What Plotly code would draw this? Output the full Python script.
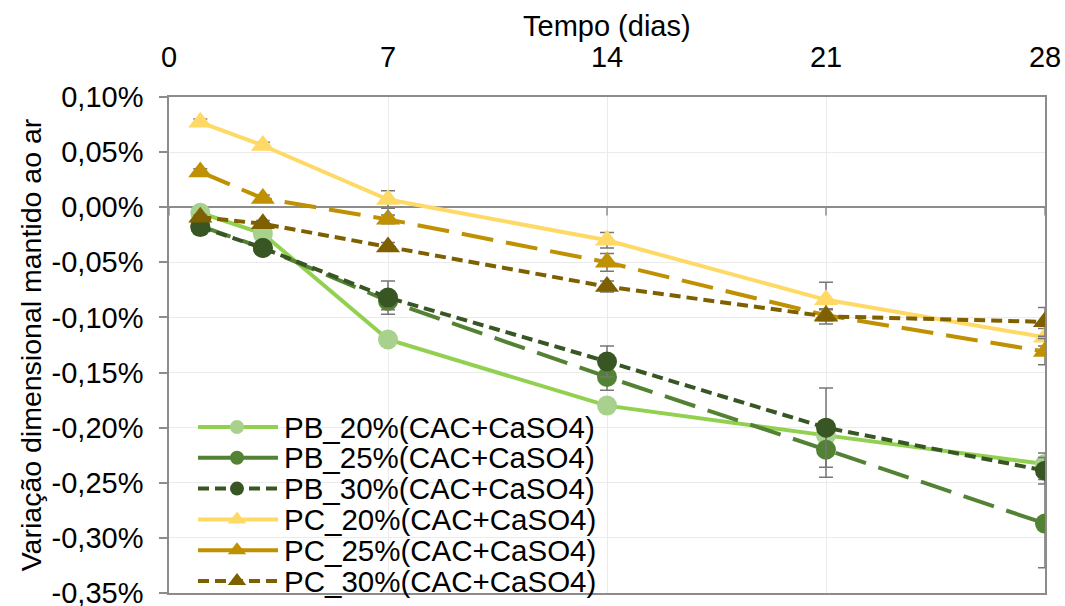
import plotly.graph_objects as go

# Tempo (dias) e variação dimensional (%) por série
dias = [1, 3, 7, 14, 21, 28]

pb_20 = [-0.005, -0.024, -0.120, -0.180, -0.207, -0.233]
pb_25 = [-0.017, -0.037, -0.085, -0.154, -0.220, -0.287]
pb_30 = [-0.018, -0.037, -0.082, -0.140, -0.200, -0.239]
pc_20 = [0.077, 0.056, 0.007, -0.030, -0.084, -0.118]
pc_25 = [0.032, 0.008, -0.011, -0.050, -0.098, -0.131]
pc_30 = [-0.009, -0.015, -0.036, -0.072, -0.099, -0.104]

# Desvios (barras de erro)
err_pb_20 = [0.003, 0.004, 0.006, 0.005, 0.008, 0.010]
err_pb_25 = [0.003, 0.004, 0.008, 0.012, 0.025, 0.040]
err_pb_30 = [0.003, 0.004, 0.015, 0.014, 0.036, 0.012]
err_pc_20 = [0.003, 0.003, 0.008, 0.007, 0.016, 0.008]
err_pc_25 = [0.003, 0.003, 0.004, 0.008, 0.005, 0.012]
err_pc_30 = [0.002, 0.003, 0.004, 0.005, 0.007, 0.013]

series_names = [
    "PB_20%(CAC+CaSO4)", "PB_25%(CAC+CaSO4)", "PB_30%(CAC+CaSO4)",
    "PC_20%(CAC+CaSO4)", "PC_25%(CAC+CaSO4)", "PC_30%(CAC+CaSO4)",
]

y_ticks = [0.10, 0.05, 0.0, -0.05, -0.10, -0.15, -0.20, -0.25, -0.30, -0.35]
y_tick_text = ["0,10%", "0,05%", "0,00%", "-0,05%", "-0,10%", "-0,15%",
               "-0,20%", "-0,25%", "-0,30%", "-0,35%"]
x_ticks = [0, 7, 14, 21, 28]

LONG_DASH = "32px,13px"
SHORT_DASH = "11px,6px"

styles = [
    # (valores, erros, cor da linha, cor do marcador, traço, traço na legenda, símbolo)
    (pb_20, err_pb_20, "#92D050", "#A9D18E", "solid", "solid", "circle"),
    (pb_25, err_pb_25, "#548235", "#548235", LONG_DASH, "solid", "circle"),
    (pb_30, err_pb_30, "#375623", "#375623", SHORT_DASH, SHORT_DASH, "circle"),
    (pc_20, err_pc_20, "#FFD966", "#FFD966", "solid", "solid", "triangle-up"),
    (pc_25, err_pc_25, "#BF9000", "#BF9000", LONG_DASH, "solid", "triangle-up"),
    (pc_30, err_pc_30, "#7F6000", "#7F6000", SHORT_DASH, SHORT_DASH, "triangle-up"),
]

font_family = "Liberation Sans, Arial, sans-serif"

# Plot-area geometry in pixels (used to place the legend block and titles)
W, H = 1065, 606
M_L, M_R, M_T, M_B = 169, 20, 97, 13
plot_w = W - M_L - M_R
plot_h = H - M_T - M_B


def fx(px):
    return (px - M_L) / plot_w


def fy(py):
    return (H - M_B - py) / plot_h


fig = go.Figure()
for name, (vals, errs, lc, mc, dash, _, sym) in zip(series_names, styles):
    fig.add_trace(go.Scatter(
        x=dias, y=vals, name=name, mode="lines+markers",
        line=dict(color=lc, width=4, dash=dash),
        marker=dict(color=mc, size=20 if sym == "circle" else 21, symbol=sym,
                    line=dict(width=0)),
        error_y=dict(type="data", array=errs, visible=True,
                     color="#767676", thickness=1.5, width=7),
        showlegend=False,
    ))

# Legend block drawn inside the plot area (lower left)
annotations = []
row0, row_gap = 427, 30.8
for i, (name, (_, _, lc, mc, _, ldash, sym)) in enumerate(zip(series_names, styles)):
    yc = fy(row0 + i * row_gap)
    fig.add_trace(go.Scatter(
        x=[fx(198), fx(278)], y=[yc, yc], mode="lines",
        line=dict(color=lc, width=4, dash=ldash),
        xaxis="x2", yaxis="y2", showlegend=False, hoverinfo="skip",
    ))
    fig.add_trace(go.Scatter(
        x=[fx(237)], y=[yc], mode="markers",
        marker=dict(color=mc, size=14 if sym == "circle" else 16, symbol=sym,
                    line=dict(width=0)),
        xaxis="x2", yaxis="y2", showlegend=False, hoverinfo="skip",
    ))
    annotations.append(dict(
        x=fx(283), y=yc, xref="paper", yref="paper",
        xanchor="left", yanchor="middle", showarrow=False, borderpad=0,
        text=name, font=dict(family=font_family, size=29.5, color="#000000"),
    ))

# Horizontal axis title above the tick labels
annotations.append(dict(
    x=0.5, y=fy(26), xref="paper", yref="paper",
    xanchor="center", yanchor="middle", showarrow=False, borderpad=0,
    text="Tempo (dias)", font=dict(family=font_family, size=29, color="#000000"),
))

# Small tick marks on the horizontal axis at y = 0
shapes = [
    dict(type="line", xref="x", yref="y", x0=t, x1=t, y0=0, y1=-0.0075,
         line=dict(color="#8C8C8C", width=1.5))
    for t in x_ticks
]

fig.update_layout(
    width=W, height=H,
    margin=dict(l=M_L, r=M_R, t=M_T, b=M_B),
    paper_bgcolor="white", plot_bgcolor="white",
    font=dict(family=font_family, size=29, color="#000000"),
    showlegend=False,
    annotations=annotations,
    shapes=shapes,
    xaxis=dict(
        range=[0, 28], tickvals=x_ticks, side="top",
        showgrid=True, gridcolor="#EBEBEB", gridwidth=1,
        showline=True, linecolor="#8C8C8C", linewidth=1.5, mirror=True,
        ticks="", tickfont=dict(size=29), ticklabelstandoff=17,
        ticklabeloverflow="allow", automargin=False,
        zeroline=False,
    ),
    yaxis=dict(
        range=[-0.35, 0.10], tickvals=y_ticks, ticktext=y_tick_text,
        showgrid=True, gridcolor="#EBEBEB", gridwidth=1,
        showline=True, linecolor="#8C8C8C", linewidth=1.5, mirror=True,
        ticks="outside", ticklen=8, tickcolor="#8C8C8C", tickwidth=1.5,
        tickfont=dict(size=29), ticklabelstandoff=10,
        ticklabeloverflow="allow", automargin=False,
        zeroline=True, zerolinecolor="#8C8C8C", zerolinewidth=1.5,
        title=dict(text="Variação dimensional mantido ao ar",
                   font=dict(size=28.5), standoff=2),
    ),
    xaxis2=dict(overlaying="x", range=[0, 1], visible=False),
    yaxis2=dict(overlaying="y", range=[0, 1], visible=False),
)

fig.write_html("out.html")
